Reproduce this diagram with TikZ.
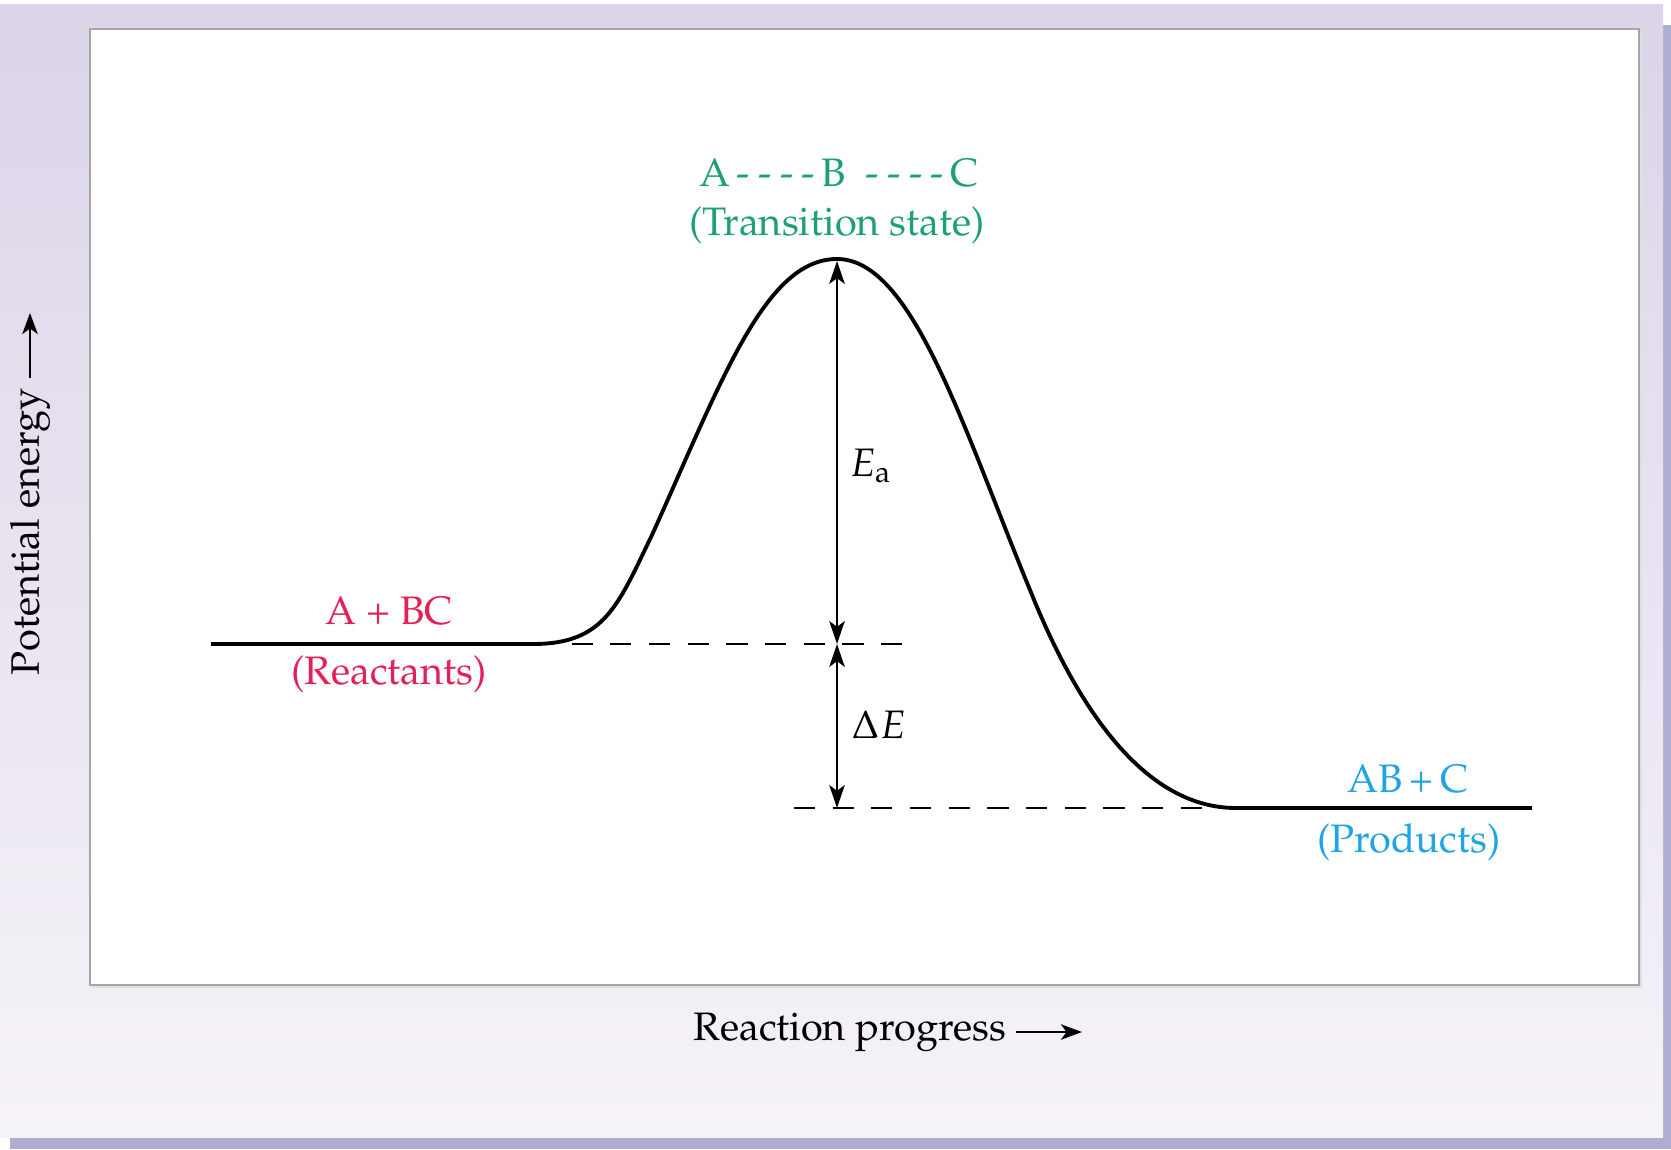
\documentclass[tikz,border=0pt]{standalone}
\usepackage[T1]{fontenc}
\usepackage{mathpazo}
\usetikzlibrary{arrows.meta}

\definecolor{tsgreen}{RGB}{30,160,118}
\definecolor{reacred}{RGB}{226,34,86}
\definecolor{prodblue}{RGB}{32,164,228}
\definecolor{paneltop}{RGB}{220,212,232}
\definecolor{panelbot}{RGB}{246,243,248}
\definecolor{panelshadow}{RGB}{174,174,210}

\newcommand{\tsdashes}{-\kern2.4pt-\kern2.4pt-\kern2.4pt-}

\tikzset{
  lbl/.style={font=\fontsize{11.3}{13.5}\selectfont, align=center, inner sep=1pt},
  dim/.style={line width=0.6pt, {Stealth[length=6.5pt,width=4.4pt,inset=1.6pt]}-{Stealth[length=6.5pt,width=4.4pt,inset=1.6pt]}},
  axisarrow/.style={line width=0.6pt, -{Stealth[length=6pt,width=4.4pt,inset=1.6pt]}},
  level/.style={line width=0.6pt, dash pattern=on 6pt off 5pt}
}

\begin{document}
\begin{tikzpicture}[x=0.01cm, y=-0.01cm]
            \useasboundingbox (0,0) rectangle (1671,1149);
            % Draw the panel and its shadow
            \fill[white] (0,0) rectangle (1671,1149);
            \fill[panelshadow] (10,25) rectangle (1671,1149);
            \fill[top color=paneltop, bottom color=panelbot] (0,5) rectangle (1663,1137);
            \fill[black!12] (92,31) rectangle (1642,988);
            \filldraw[fill=white, draw=black!35, line width=0.6pt] (90,29) rectangle (1639,985);

            % Axis labels
            \node[lbl, rotate=90] (ylabel) at (30,532) {Potential energy};
            \coordinate (ytip) at (30,313);
            \draw[axisarrow] (30,378) -- (ytip);
            \node[lbl] (xlabel) at (850,1032) {Reaction progress};
            \coordinate (xtip) at (1082,1032);
            \draw[axisarrow] (1016,1032) -- (xtip);

            % Energy levels
            \coordinate (peak) at (837,261);
            \coordinate (react) at (837,644);
            \coordinate (prod) at (837,808);
            \draw[level] (533,644) -- (904,644);
            \draw[level] (794,808) -- (1236,808);

            % Draw the reaction curve
            \draw[line width=1.1pt] (211,644) -- (533,644)
              .. controls (605,644) and (618,605) .. (652,535)
              .. controls (722,380) and (765,259) .. (837,259)
              .. controls (912,259) and (962,425) .. (1030,590)
              .. controls (1082,720) and (1150,808) .. (1236,808)
              -- (1532,808);

            % Mark the two energy gaps
            \draw[dim] (peak) -- (react);
            \draw[dim] (react) -- (prod);
            \node[lbl, anchor=west] (ea) at (846,466) {$E_{\mathrm{a}}$};
            \node[lbl, anchor=west] (de) at (848,725) {$\Delta E$};

            % Label the states
            \node[lbl, text=tsgreen] (ts) at (839,173) {A\,\tsdashes\,B\enspace\tsdashes\,C};
            \node[lbl, text=tsgreen] (tsname) at (837,225) {(Transition state)};
            \node[lbl, text=reacred] (reac) at (389,611) {A + BC};
            \node[lbl, text=reacred] (reacname) at (389,674) {(Reactants)};
            \node[lbl, text=prodblue] (prods) at (1408,779) {AB\,+\,C};
            \node[lbl, text=prodblue] (prodname) at (1409,842) {(Products)};
        \end{tikzpicture}
\end{document}
